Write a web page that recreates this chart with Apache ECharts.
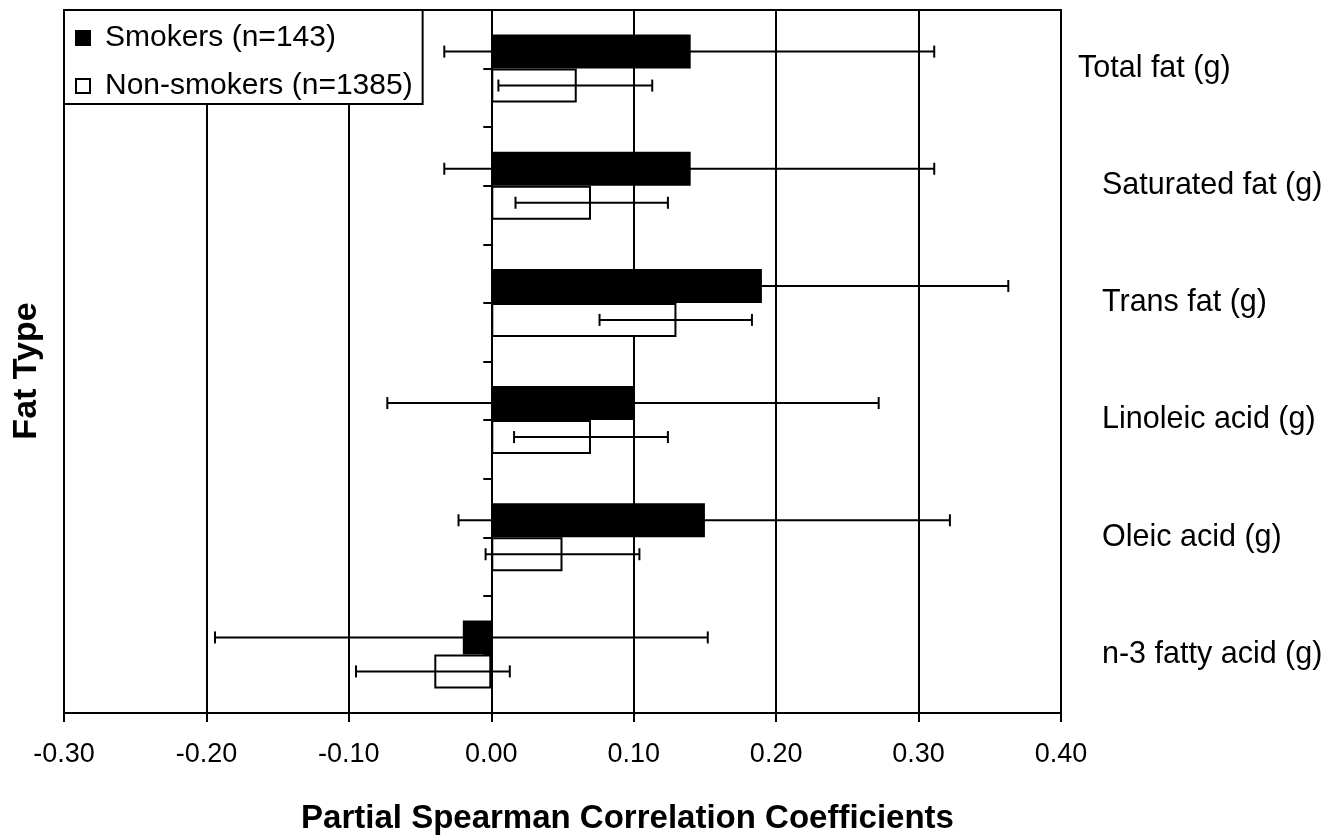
<!DOCTYPE html>
<html>
<head>
<meta charset="utf-8">
<script src="https://cdn.jsdelivr.net/npm/echarts@6/dist/echarts.min.js"></script>
<style>
html, body { margin: 0; padding: 0; background: #fff; }
#chart { width: 1337px; height: 840px; }
</style>
</head>
<body>
<div id="chart"></div>
<script>
// ---- data ----
const categories = ['Total fat (g)', 'Saturated fat (g)', 'Trans fat (g)', 'Linoleic acid (g)', 'Oleic acid (g)', 'n-3 fatty acid (g)'];
const seriesNames = ['Smokers (n=143)', 'Non-smokers (n=1385)'];
const smokers = [0.14, 0.14, 0.19, 0.10, 0.15, -0.02];
const smokersLow = [-0.033, -0.033, 0.017, -0.073, -0.023, -0.194];
const smokersHigh = [0.311, 0.311, 0.363, 0.272, 0.322, 0.152];
const nonSmokers = [0.06, 0.07, 0.13, 0.07, 0.05, -0.04];
const nonSmokersLow = [0.005, 0.017, 0.076, 0.016, -0.004, -0.095];
const nonSmokersHigh = [0.113, 0.124, 0.183, 0.124, 0.104, 0.013];
const xTicks = { min: -0.3, max: 0.4, interval: 0.1 };
const xTitle = 'Partial Spearman Correlation Coefficients';
const yTitle = 'Fat Type';

// ---- chart ----
const FONT = '"Liberation Sans", Arial, sans-serif';
const gapRatio = 0.42;
const chart = echarts.init(document.getElementById('chart'), null, { renderer: 'canvas' });

function errorSeries(name, idx, low, high) {
  return {
    type: 'custom',
    name: name,
    xAxisIndex: 0,
    yAxisIndex: 0,
    z: 5,
    silent: true,
    data: categories.map((c, i) => [i, low[i], high[i]]),
    encode: { x: [1, 2], y: 0 },
    renderItem: function (params, api) {
      const cat = api.value(0);
      const p1 = api.coord([api.value(1), cat]);
      const p2 = api.coord([api.value(2), cat]);
      const band = api.size([0, 1])[1];
      const h = band * (1 - gapRatio) / 2;
      const y = p1[1] + (idx === 0 ? -h / 2 : h / 2);
      const cap = 6;
      const st = { stroke: '#000', lineWidth: 2 };
      return {
        type: 'group',
        children: [
          { type: 'line', shape: { x1: p1[0], y1: y, x2: p2[0], y2: y }, style: st },
          { type: 'line', shape: { x1: p1[0], y1: y - cap, x2: p1[0], y2: y + cap }, style: st },
          { type: 'line', shape: { x1: p2[0], y1: y - cap, x2: p2[0], y2: y + cap }, style: st }
        ]
      };
    }
  };
}

const option = {
  backgroundColor: '#fff',
  animation: false,
  textStyle: { fontFamily: FONT, color: '#000' },
  grid: {
    left: 64, right: 276, top: 10, bottom: 125,
    show: true, borderColor: '#000', borderWidth: 2, backgroundColor: 'transparent'
  },
  legend: {
    data: seriesNames,
    orient: 'vertical',
    left: 64, top: 10,
    padding: [11, 10, 1, 11],
    itemGap: 14,
    itemWidth: 14, itemHeight: 14,
    icon: 'rect',
    backgroundColor: '#fff',
    borderColor: '#000',
    borderWidth: 2,
    borderRadius: 0,
    textStyle: { fontFamily: FONT, fontSize: 30, color: '#000', lineHeight: 34, padding: [0, 0, 0, 10] }
  },
  xAxis: {
    type: 'value',
    min: xTicks.min, max: xTicks.max, interval: xTicks.interval,
    name: xTitle,
    nameLocation: 'middle',
    nameGap: 89,
    nameTextStyle: { fontFamily: FONT, fontSize: 33, fontWeight: 'bold', color: '#000', padding: [0, 0, 0, 130] },
    axisLine: { onZero: false, lineStyle: { color: '#000', width: 2.5 } },
    axisTick: { show: true, length: 9, lineStyle: { color: '#000', width: 2 } },
    axisLabel: {
      fontFamily: FONT, fontSize: 27, color: '#000', margin: 28,
      formatter: v => (Math.abs(v) < 1e-9 ? 0 : v).toFixed(2)
    },
    splitLine: { show: true, lineStyle: { color: '#000', width: 2 } }
  },
  yAxis: [
    {
      type: 'category', data: categories, inverse: true,
      position: 'left',
      axisLine: { show: false, onZero: false },
      axisTick: { show: false },
      axisLabel: { show: false },
      splitLine: { show: false }
    },
    {
      type: 'category', data: categories, inverse: true,
      position: 'right',
      axisLine: { show: false, onZero: false },
      axisTick: { show: false },
      splitLine: { show: false },
      axisLabel: {
        show: true, interval: 0, margin: 17, align: 'left',
        fontFamily: FONT, fontSize: 30.5, color: '#000',
        formatter: (v, i) => (i === 0 ? v : '{p|' + v + '}'),
        rich: { p: { fontFamily: FONT, fontSize: 30.5, color: '#000', padding: [0, 0, 0, 24] } }
      }
    },
    {
      type: 'category',
      data: categories.flatMap(c => [c + ' (smokers)', c + ' (non-smokers)']),
      inverse: true,
      position: 'left',
      axisLine: { show: true, onZero: true, lineStyle: { color: '#000', width: 2 } },
      axisTick: { show: true, length: 8, inside: false, lineStyle: { color: '#000', width: 2 } },
      axisLabel: { show: false },
      splitLine: { show: false }
    }
  ],
  series: [
    {
      type: 'bar', name: seriesNames[0], yAxisIndex: 0, data: smokers,
      barGap: '0%', barCategoryGap: (gapRatio * 100) + '%',
      itemStyle: { color: '#000', borderColor: '#000', borderWidth: 2 },
      z: 3
    },
    {
      type: 'bar', name: seriesNames[1], yAxisIndex: 0, data: nonSmokers,
      barGap: '0%', barCategoryGap: (gapRatio * 100) + '%',
      itemStyle: { color: '#fff', borderColor: '#000', borderWidth: 2 },
      z: 3
    },
    errorSeries('Smokers CI', 0, smokersLow, smokersHigh),
    errorSeries('Non-smokers CI', 1, nonSmokersLow, nonSmokersHigh)
  ],
  graphic: [
    {
      type: 'text', x: 27, y: 371, rotation: Math.PI / 2,
      style: {
        text: yTitle, fontFamily: FONT, fontSize: 34, fontWeight: 'bold', fill: '#000',
        align: 'center', verticalAlign: 'middle'
      }
    }
  ]
};
chart.setOption(option);
</script>
</body>
</html>
